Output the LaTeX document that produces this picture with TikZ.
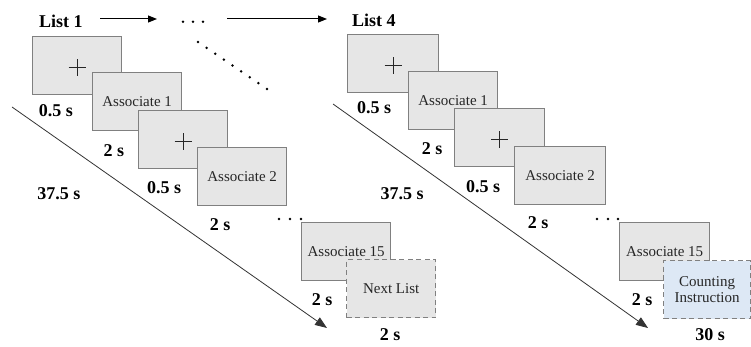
\documentclass[tikz,border=0pt]{standalone}
\usepackage{fontspec}
\setmainfont{Liberation Serif}
\usetikzlibrary{arrows.meta}
\definecolor{boxfill}{RGB}{230,230,230}
\definecolor{boxedge}{RGB}{128,128,128}
\definecolor{bluefill}{RGB}{221,232,245}
\tikzset{
  scr/.style={draw=boxedge, line width=1.3pt, fill=boxfill, anchor=north west, inner sep=0pt,
    minimum width=89pt, minimum height=58pt, font=\fontsize{15}{17}\selectfont, text=black!85},
  dscr/.style={scr, dashed, dash pattern=on 5pt off 3.5pt},
  lab/.style={font=\bfseries\fontsize{18}{20}\selectfont, anchor=base, inner sep=0pt},
  ttl/.style={lab, anchor=base west},
  dot/.style={fill=black, draw=none},
  crossline/.style={line width=0.9pt, black!85},
  flow/.style={line width=0.8pt, black!80, -{Triangle[length=12pt,width=9pt]}},
  topflow/.style={line width=1pt, -{Triangle[length=9pt,width=7pt]}}
}
\begin{document}
\begin{tikzpicture}[x=1pt,y=-1pt]
\useasboundingbox (0,0) rectangle (751,347);

% ---------- top: list sequence ----------
\node[ttl] (list1) at (39,28) {List 1};
\node[ttl] (list4) at (352,27) {List 4};
\coordinate (ta1) at (100,19);
\coordinate (tb1) at (157,19);
\coordinate (ta2) at (227,19);
\coordinate (tb2) at (327,19);
\draw[topflow] (ta1) -- (tb1);
\draw[topflow] (ta2) -- (tb2);
\foreach \x in {183,193,203} \fill[dot] (\x,21.7) circle (1.4);
\foreach \i in {0,...,8} \fill[dot] ({198+\i*8.625},{42+\i*5.875}) circle (1.4);

% ---------- left panel ----------
\coordinate (ls) at (12,107);
\coordinate (le) at (327,328);
\draw[flow] (ls) -- (le);

\node[scr] (l1) at (32,36) {};
\node[scr] (l2) at (92,72) {Associate 1};
\node[scr] (l3) at (138,110) {};
\node[scr] (l4) at (197,147) {Associate 2};
\node[scr] (l5) at (301,222) {Associate 15};
\node[dscr] (l6) at (346,259) {Next List};

\foreach \n in {l1,l3}{
  \draw[crossline] ([xshift=-8.5pt,yshift=-2pt]\n.center) -- ([xshift=8.5pt,yshift=-2pt]\n.center);
  \draw[crossline] ([yshift=6.5pt]\n.center) -- ([yshift=-10.5pt]\n.center);
}

\node[lab] (lt1) at (56,117) {0.5 s};
\node[lab] (lt2) at (114,157) {2 s};
\node[lab] (lt3) at (164,194) {0.5 s};
\node[lab] (ltot) at (59,200) {37.5 s};
\node[lab] (lt4) at (220,230) {2 s};
\node[lab] (lt5) at (322,305) {2 s};
\node[lab] (lt6) at (390,340) {2 s};
\foreach \x in {279,290,301} \fill[dot] (\x,219) circle (1.4);

% ---------- right panel ----------
\coordinate (rs) at (333,104);
\coordinate (re) at (648,328);
\draw[flow] (rs) -- (re);

\node[scr, minimum width=91pt] (r1) at (347,34) {};
\node[scr] (r2) at (408,71) {Associate 1};
\node[scr, minimum width=90pt] (r3) at (454,108) {};
\node[scr, minimum width=91pt] (r4) at (514,146) {Associate 2};
\node[scr, minimum width=90pt] (r5) at (619,222) {Associate 15};
\node[dscr, fill=bluefill, minimum width=87pt, align=center] (r6) at (663,260) {Counting\\[-1pt]Instruction};

\foreach \n in {r1,r3}{
  \draw[crossline] ([xshift=-8.5pt,yshift=-2pt]\n.center) -- ([xshift=8.5pt,yshift=-2pt]\n.center);
  \draw[crossline] ([yshift=6.5pt]\n.center) -- ([yshift=-10.5pt]\n.center);
}

\node[lab] (rt1) at (374,114) {0.5 s};
\node[lab] (rt2) at (432,155) {2 s};
\node[lab] (rt3) at (483,193) {0.5 s};
\node[lab] (rtot) at (402,200) {37.5 s};
\node[lab] (rt4) at (538,229) {2 s};
\node[lab] (rt5) at (642,305) {2 s};
\node[lab] (rt6) at (710,340) {30 s};
\foreach \x in {597,608,618} \fill[dot] (\x,219) circle (1.4);
\end{tikzpicture}
\end{document}
